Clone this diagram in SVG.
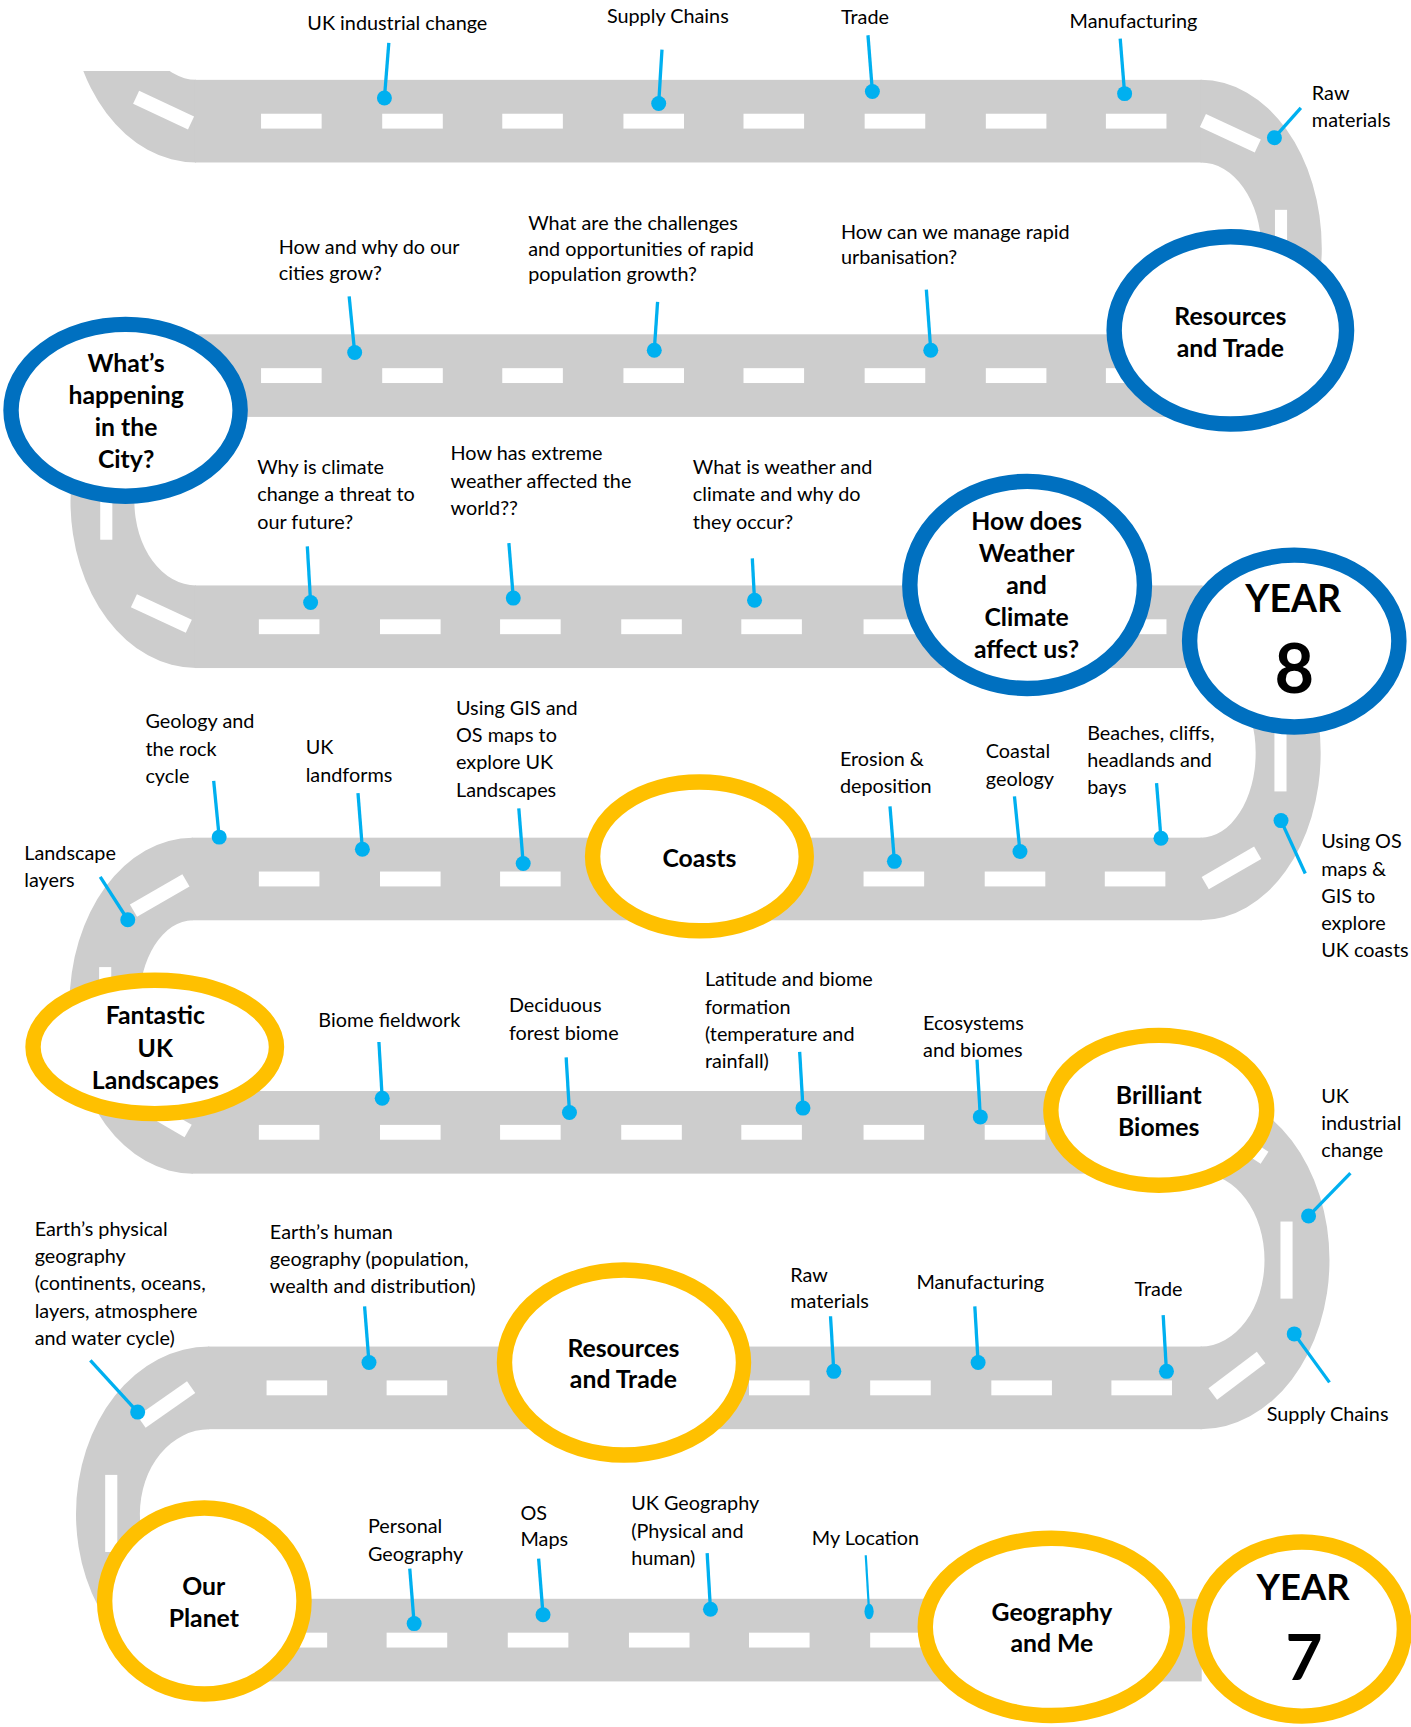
<svg xmlns="http://www.w3.org/2000/svg" width="1411" height="1727" viewBox="0 0 1411 1727">
<style>
.road{fill:#CDCDCD}
.dash{fill:#FFFFFF}
.lbl{font-family:Lato,"Liberation Sans","Noto Sans",sans-serif;font-size:18px;fill:#000000}
.nt{font-family:Lato,"Liberation Sans","Noto Sans",sans-serif;font-weight:bold;font-size:22.5px;fill:#000000;text-anchor:middle}
.yr{font-size:34px}
.blue{fill:#FFFFFF;stroke:#0070C0;stroke-width:14}
.yel{fill:#FFFFFF;stroke:#FFC000;stroke-width:14}
.pin{stroke:#00B0F0;stroke-width:3;fill:none}
.dot{fill:#00B0F0}
</style>
<defs>
<clipPath id="tailclip"><rect x="0" y="64.5" width="400" height="200"/></clipPath>
<rect id="d" class="dash" width="55" height="13.5"/>
<rect id="s" class="dash" x="-27.5" y="-6.5" width="55" height="13"/>
<rect id="v" class="dash" width="11" height="70"/>
</defs>
<rect width="1411" height="1727" fill="#FFFFFF"/>
<g transform="scale(1.10148)">
<g id="road">
<path class="road" clip-path="url(#tailclip)" d="M178,-157.5 A115,152.5 0 0 0 178,147.5 L178,72.5 A54,77.5 0 0 1 178,-82.5 Z"/>
<rect class="road" x="177" y="72.5" width="914" height="75"/>
<path class="road" d="M1090,72.5 A110,153 0 0 1 1090,378.5 L1090,303.5 A55,78 0 0 0 1090,147.5 Z"/>
<rect class="road" x="177" y="303.5" width="914" height="75"/>
<path class="road" d="M178,303.5 A114,151.5 0 0 0 178,606.5 L178,531.5 A56,76.5 0 0 1 178,378.5 Z"/>
<rect class="road" x="177" y="531.5" width="914" height="75"/>
<path class="road" d="M1090,531.5 A109,152 0 0 1 1090,835.5 L1090,760.5 A50,77 0 0 0 1090,606.5 Z"/>
<rect class="road" x="174" y="760.5" width="917" height="75"/>
<path class="road" d="M175,760.5 A112,152.5 0 0 0 175,1065.5 L175,990.5 A49,77.5 0 0 1 175,835.5 Z"/>
<rect class="road" x="174" y="990.5" width="917" height="75"/>
<path class="road" d="M1090,990.5 A117,153.5 0 0 1 1090,1297.5 L1090,1222.5 A58,78.5 0 0 0 1090,1065.5 Z"/>
<rect class="road" x="189" y="1222.5" width="902" height="75"/>
<path class="road" d="M190,1222.5 A121,152 0 0 0 190,1526.5 L190,1451.5 A63,77 0 0 1 190,1297.5 Z"/>
<rect class="road" x="189" y="1451.5" width="902" height="75"/>
</g>
<g id="dashes">
<use href="#d" x="237" y="103.25"/><use href="#d" x="347" y="103.25"/><use href="#d" x="456" y="103.25"/><use href="#d" x="566" y="103.25"/><use href="#d" x="675" y="103.25"/><use href="#d" x="785" y="103.25"/><use href="#d" x="895" y="103.25"/><use href="#d" x="1004" y="103.25"/>
<use href="#d" x="237" y="334.25"/><use href="#d" x="347" y="334.25"/><use href="#d" x="456" y="334.25"/><use href="#d" x="566" y="334.25"/><use href="#d" x="675" y="334.25"/><use href="#d" x="785" y="334.25"/><use href="#d" x="895" y="334.25"/><use href="#d" x="1004" y="334.25"/>
<use href="#d" x="235" y="562.25"/><use href="#d" x="345" y="562.25"/><use href="#d" x="454" y="562.25"/><use href="#d" x="564" y="562.25"/><use href="#d" x="673" y="562.25"/><use href="#d" x="784" y="562.25"/><use href="#d" x="894" y="562.25"/><use href="#d" x="1004" y="562.25"/>
<use href="#d" x="235" y="791.25"/><use href="#d" x="345" y="791.25"/><use href="#d" x="454" y="791.25"/><use href="#d" x="784" y="791.25"/><use href="#d" x="894" y="791.25"/><use href="#d" x="1003" y="791.25"/>
<use href="#d" x="235" y="1021.25"/><use href="#d" x="345" y="1021.25"/><use href="#d" x="454" y="1021.25"/><use href="#d" x="564" y="1021.25"/><use href="#d" x="673" y="1021.25"/><use href="#d" x="784" y="1021.25"/><use href="#d" x="894" y="1021.25"/>
<use href="#d" x="242" y="1253.25"/><use href="#d" x="351" y="1253.25"/><use href="#d" x="461" y="1253.25"/><use href="#d" x="571" y="1253.25"/><use href="#d" x="680" y="1253.25"/><use href="#d" x="790" y="1253.25"/><use href="#d" x="900" y="1253.25"/><use href="#d" x="1009" y="1253.25"/>
<use href="#d" x="242" y="1482.25"/><use href="#d" x="351" y="1482.25"/><use href="#d" x="461" y="1482.25"/><use href="#d" x="571" y="1482.25"/><use href="#d" x="680" y="1482.25"/><use href="#d" x="790" y="1482.25"/>
<use href="#s" transform="translate(148.5,100) rotate(25)"/>
<use href="#s" transform="translate(1117,121) rotate(25)"/>
<use href="#v" x="1157.5" y="190.5"/>
<use href="#v" x="91" y="420"/>
<use href="#s" transform="translate(146.5,557) rotate(25)"/>
<use href="#v" x="1157" y="648.5"/>
<use href="#s" transform="translate(1118,788) rotate(-30)"/>
<use href="#s" transform="translate(145,813) rotate(-30)"/>
<use href="#v" x="90" y="878"/>
<use href="#s" transform="translate(147,1013) rotate(30)"/>
<use href="#s" transform="translate(1125,1036) rotate(33)"/>
<use href="#v" x="1162.5" y="1109"/>
<use href="#s" transform="translate(1123,1249) rotate(-37)"/>
<use href="#s" transform="translate(151,1275) rotate(-35)"/>
<use href="#v" x="95.5" y="1339"/>
</g>
<g id="connectors">
<line class="pin" x1="353" y1="39" x2="349" y2="89"/><circle class="dot" cx="349" cy="89" r="6.8"/>
<line class="pin" x1="601" y1="45" x2="598" y2="94"/><circle class="dot" cx="598" cy="94" r="6.8"/>
<line class="pin" x1="788" y1="32" x2="792" y2="83"/><circle class="dot" cx="792" cy="83" r="6.8"/>
<line class="pin" x1="1017" y1="35" x2="1021" y2="85"/><circle class="dot" cx="1021" cy="85" r="6.8"/>
<line class="pin" x1="1181" y1="98" x2="1157" y2="125"/><circle class="dot" cx="1157" cy="125" r="6.8"/>
<line class="pin" x1="317" y1="269" x2="322" y2="320"/><circle class="dot" cx="322" cy="320" r="6.8"/>
<line class="pin" x1="597" y1="274" x2="594" y2="318"/><circle class="dot" cx="594" cy="318" r="6.8"/>
<line class="pin" x1="841" y1="263" x2="845" y2="318"/><circle class="dot" cx="845" cy="318" r="6.8"/>
<line class="pin" x1="279" y1="496" x2="282" y2="547"/><circle class="dot" cx="282" cy="547" r="6.8"/>
<line class="pin" x1="462" y1="493" x2="466" y2="543"/><circle class="dot" cx="466" cy="543" r="6.8"/>
<line class="pin" x1="683" y1="507" x2="685" y2="545"/><circle class="dot" cx="685" cy="545" r="6.8"/>
<line class="pin" x1="91" y1="796" x2="116" y2="835"/><circle class="dot" cx="116" cy="835" r="6.8"/>
<line class="pin" x1="194" y1="709" x2="199" y2="760"/><circle class="dot" cx="199" cy="760" r="6.8"/>
<line class="pin" x1="325" y1="720" x2="329" y2="771"/><circle class="dot" cx="329" cy="771" r="6.8"/>
<line class="pin" x1="471" y1="734" x2="475" y2="784"/><circle class="dot" cx="475" cy="784" r="6.8"/>
<line class="pin" x1="808" y1="732" x2="812" y2="782"/><circle class="dot" cx="812" cy="782" r="6.8"/>
<line class="pin" x1="921" y1="723" x2="926" y2="773"/><circle class="dot" cx="926" cy="773" r="6.8"/>
<line class="pin" x1="1050" y1="711" x2="1054" y2="761"/><circle class="dot" cx="1054" cy="761" r="6.8"/>
<line class="pin" x1="1185" y1="793" x2="1163" y2="745"/><circle class="dot" cx="1163" cy="745" r="6.8"/>
<line class="pin" x1="344" y1="946" x2="347" y2="997"/><circle class="dot" cx="347" cy="997" r="6.8"/>
<line class="pin" x1="514" y1="960" x2="517" y2="1010"/><circle class="dot" cx="517" cy="1010" r="6.8"/>
<line class="pin" x1="726" y1="955" x2="729" y2="1006"/><circle class="dot" cx="729" cy="1006" r="6.8"/>
<line class="pin" x1="887" y1="962" x2="890" y2="1014"/><circle class="dot" cx="890" cy="1014" r="6.8"/>
<line class="pin" x1="1226" y1="1065" x2="1188" y2="1104"/><circle class="dot" cx="1188" cy="1104" r="6.8"/>
<line class="pin" x1="82" y1="1235" x2="125" y2="1282"/><circle class="dot" cx="125" cy="1282" r="6.8"/>
<line class="pin" x1="331" y1="1186" x2="335" y2="1237"/><circle class="dot" cx="335" cy="1237" r="6.8"/>
<line class="pin" x1="754" y1="1195" x2="757" y2="1245"/><circle class="dot" cx="757" cy="1245" r="6.8"/>
<line class="pin" x1="885" y1="1186" x2="888" y2="1237"/><circle class="dot" cx="888" cy="1237" r="6.8"/>
<line class="pin" x1="1056" y1="1194" x2="1059" y2="1245"/><circle class="dot" cx="1059" cy="1245" r="6.8"/>
<line class="pin" x1="1207" y1="1255" x2="1175" y2="1211"/><circle class="dot" cx="1175" cy="1211" r="6.8"/>
<line class="pin" x1="372" y1="1424" x2="376" y2="1474"/><circle class="dot" cx="376" cy="1474" r="6.8"/>
<line class="pin" x1="489" y1="1415" x2="493" y2="1466"/><circle class="dot" cx="493" cy="1466" r="6.8"/>
<line class="pin" x1="642" y1="1410" x2="645" y2="1461"/><circle class="dot" cx="645" cy="1461" r="6.8"/>
<line class="pin" x1="786" y1="1412" x2="789" y2="1463" style="stroke-width:2"/><ellipse class="dot" cx="789" cy="1463" rx="4.2" ry="7"/>
</g>
<g id="n-city"><ellipse class="blue" cx="114" cy="372.5" rx="104" ry="78"/>
<text class="nt"><tspan x="114.5" y="338">What’s</tspan><tspan x="114.5" y="367">happening</tspan><tspan x="114.5" y="396">in the</tspan><tspan x="114.5" y="425">City?</tspan></text></g>
<g id="n-resources8"><ellipse class="blue" cx="1117" cy="300" rx="105.5" ry="85"/>
<text class="nt"><tspan x="1117" y="295">Resources</tspan><tspan x="1117" y="324">and Trade</tspan></text></g>
<g id="n-weather"><ellipse class="blue" cx="932.5" cy="531" rx="106.5" ry="94"/>
<text class="nt"><tspan x="932" y="481">How does</tspan><tspan x="932" y="510">Weather</tspan><tspan x="932" y="539">and</tspan><tspan x="932" y="568">Climate</tspan><tspan x="932" y="597">affect us?</tspan></text></g>
<g id="n-year8"><ellipse class="blue" cx="1175" cy="582" rx="95" ry="78"/>
<text class="nt yr" x="1174" y="556">YEAR</text><text class="nt" style="font-size:62px" x="1175" y="629">8</text></g>
<g id="n-coasts"><ellipse class="yel" cx="635" cy="777.5" rx="97" ry="67.5"/>
<text class="nt" x="635" y="787">Coasts</text></g>
<g id="n-fantastic"><ellipse class="yel" cx="140.5" cy="950.5" rx="110.5" ry="60.5"/>
<text class="nt"><tspan x="141" y="930">Fantastic</tspan><tspan x="141" y="960">UK</tspan><tspan x="141" y="989">Landscapes</tspan></text></g>
<g id="n-biomes"><ellipse class="yel" cx="1052" cy="1008" rx="98" ry="68"/>
<text class="nt"><tspan x="1052" y="1002">Brilliant</tspan><tspan x="1052" y="1031">Biomes</tspan></text></g>
<g id="n-resources7"><ellipse class="yel" cx="566.5" cy="1237" rx="108.5" ry="84"/>
<text class="nt"><tspan x="566" y="1232">Resources</tspan><tspan x="566" y="1260">and Trade</tspan></text></g>
<g id="n-planet"><ellipse class="yel" cx="185.5" cy="1453.5" rx="90.5" ry="84.5"/>
<text class="nt"><tspan x="185" y="1448">Our</tspan><tspan x="185" y="1477">Planet</tspan></text></g>
<g id="n-geome"><ellipse class="yel" cx="954.5" cy="1477" rx="114.5" ry="80.5"/>
<text class="nt"><tspan x="955" y="1472">Geography</tspan><tspan x="955" y="1500">and Me</tspan></text></g>
<g id="n-year7"><ellipse class="yel" cx="1182" cy="1479" rx="93" ry="79"/>
<text class="nt yr" style="font-size:33px" x="1183" y="1453">YEAR</text><text class="nt" style="font-size:58px" x="1184" y="1525">7</text></g>
<g id="labels">
<g id="l1"><text class="lbl" x="279" y="27">UK industrial change</text></g>
<g id="l2"><text class="lbl" x="551" y="21">Supply Chains</text></g>
<g id="l3"><text class="lbl" x="763.5" y="22">Trade</text></g>
<g id="l4"><text class="lbl" x="971" y="25">Manufacturing</text></g>
<g id="l5"><text class="lbl"><tspan x="1191" y="91">Raw</tspan><tspan x="1191" y="115">materials</tspan></text></g>
<g id="l6"><text class="lbl"><tspan x="253" y="231">How and why do our</tspan><tspan x="253" y="254">cities grow?</tspan></text></g>
<g id="l7"><text class="lbl"><tspan x="479.5" y="209">What are the challenges</tspan><tspan x="479.5" y="232.5">and opportunities of rapid</tspan><tspan x="479.5" y="255.5">population growth?</tspan></text></g>
<g id="l8"><text class="lbl"><tspan x="763.5" y="217">How can we manage rapid</tspan><tspan x="763.5" y="240">urbanisation?</tspan></text></g>
<g id="l9"><text class="lbl"><tspan x="233.5" y="430">Why is climate</tspan><tspan x="233.5" y="455">change a threat to</tspan><tspan x="233.5" y="480">our future?</tspan></text></g>
<g id="l10"><text class="lbl"><tspan x="409" y="418">How has extreme</tspan><tspan x="409" y="443">weather affected the</tspan><tspan x="409" y="468">world??</tspan></text></g>
<g id="l11"><text class="lbl"><tspan x="629" y="430">What is weather and</tspan><tspan x="629" y="455">climate and why do</tspan><tspan x="629" y="480">they occur?</tspan></text></g>
<g id="l12"><text class="lbl"><tspan x="22" y="781">Landscape</tspan><tspan x="22" y="805.5">layers</tspan></text></g>
<g id="l13"><text class="lbl"><tspan x="132" y="661">Geology and</tspan><tspan x="132" y="686">the rock</tspan><tspan x="132" y="711">cycle</tspan></text></g>
<g id="l14"><text class="lbl"><tspan x="277.5" y="684.5">UK</tspan><tspan x="277.5" y="709.5">landforms</tspan></text></g>
<g id="l15"><text class="lbl"><tspan x="414" y="649">Using GIS and</tspan><tspan x="414" y="674">OS maps to</tspan><tspan x="414" y="698.5">explore UK</tspan><tspan x="414" y="723.5">Landscapes</tspan></text></g>
<g id="l16"><text class="lbl"><tspan x="762.5" y="695.5">Erosion &amp;</tspan><tspan x="762.5" y="720">deposition</tspan></text></g>
<g id="l17"><text class="lbl"><tspan x="895" y="688.5">Coastal</tspan><tspan x="895" y="713.5">geology</tspan></text></g>
<g id="l18"><text class="lbl"><tspan x="987" y="672">Beaches, cliffs,</tspan><tspan x="987" y="696">headlands and</tspan><tspan x="987" y="721">bays</tspan></text></g>
<g id="l19"><text class="lbl"><tspan x="1199.5" y="770">Using OS</tspan><tspan x="1199.5" y="795">maps &amp;</tspan><tspan x="1199.5" y="820">GIS to</tspan><tspan x="1199.5" y="844">explore</tspan><tspan x="1199.5" y="869">UK coasts</tspan></text></g>
<g id="l20"><text class="lbl" x="289" y="932">Biome fieldwork</text></g>
<g id="l21"><text class="lbl"><tspan x="462" y="918.5">Deciduous</tspan><tspan x="462" y="944">forest biome</tspan></text></g>
<g id="l22"><text class="lbl"><tspan x="640" y="895">Latitude and biome</tspan><tspan x="640" y="920.5">formation</tspan><tspan x="640" y="945">(temperature and</tspan><tspan x="640" y="970">rainfall)</tspan></text></g>
<g id="l23"><text class="lbl"><tspan x="838" y="935">Ecosystems</tspan><tspan x="838" y="960">and biomes</tspan></text></g>
<g id="l24"><text class="lbl"><tspan x="1199.5" y="1001.5">UK</tspan><tspan x="1199.5" y="1026">industrial</tspan><tspan x="1199.5" y="1050">change</tspan></text></g>
<g id="l25"><text class="lbl"><tspan x="31.5" y="1122">Earth’s physical</tspan><tspan x="31.5" y="1146.5">geography</tspan><tspan x="31.5" y="1171.5">(continents, oceans,</tspan><tspan x="31.5" y="1196.5">layers, atmosphere</tspan><tspan x="31.5" y="1221">and water cycle)</tspan></text></g>
<g id="l26"><text class="lbl"><tspan x="245" y="1125">Earth’s human</tspan><tspan x="245" y="1149.5">geography (population,</tspan><tspan x="245" y="1174">wealth and distribution)</tspan></text></g>
<g id="l27"><text class="lbl"><tspan x="717.5" y="1163.5">Raw</tspan><tspan x="717.5" y="1187.5">materials</tspan></text></g>
<g id="l28"><text class="lbl" x="832" y="1170">Manufacturing</text></g>
<g id="l29"><text class="lbl" x="1030" y="1177">Trade</text></g>
<g id="l30"><text class="lbl" x="1150" y="1290">Supply Chains</text></g>
<g id="l31"><text class="lbl"><tspan x="334" y="1392">Personal</tspan><tspan x="334" y="1417">Geography</tspan></text></g>
<g id="l32"><text class="lbl"><tspan x="472.5" y="1380">OS</tspan><tspan x="472.5" y="1404">Maps</tspan></text></g>
<g id="l33"><text class="lbl"><tspan x="573" y="1371">UK Geography</tspan><tspan x="573" y="1396">(Physical and</tspan><tspan x="573" y="1421">human)</tspan></text></g>
<g id="l34"><text class="lbl" x="737" y="1402.5">My Location</text></g>
</g>
</g>
</svg>
